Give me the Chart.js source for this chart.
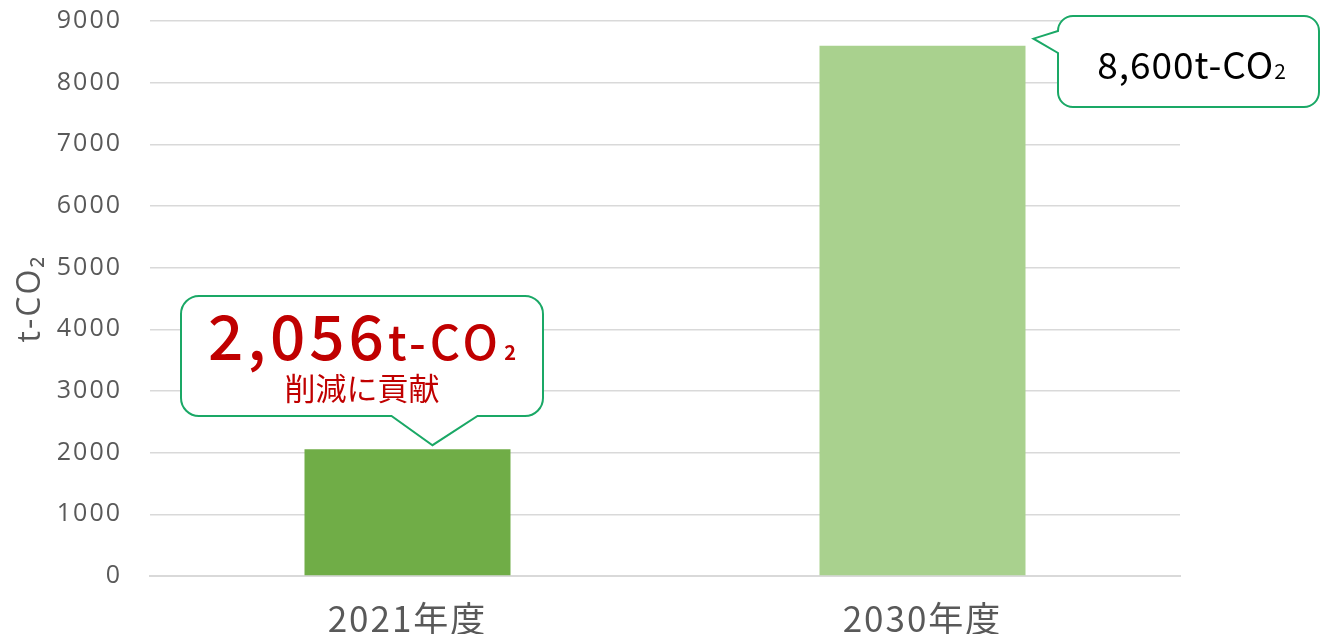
<!DOCTYPE html>
<html>
<head>
<meta charset="utf-8">
<script src="https://cdn.jsdelivr.net/npm/chart.js@4"></script>
<style>
  html, body { margin: 0; padding: 0; background: #fff; }
  #wrap { width: 1321px; height: 634px; }
</style>
</head>
<body>
<div id="wrap"><canvas id="co2Chart"></canvas></div>
<script>
// data
const categories = ['2021年度', '2030年度'];
const emissions = [2056, 8600];
const barColors = ['#70ad47', '#a9d18e'];
const yMax = 9000;
const yStep = 1000;

const JP = '"Noto Sans CJK JP", "Noto Sans", sans-serif';
const LAT = '"Open Sans", "Noto Sans", sans-serif';
const GREEN = '#1aa866';
const RED = '#c00000';

// draw a sequence of [text, font, color, spacing] pieces on one baseline, centred at cx
function drawRuns(ctx, runs, cx, baseline) {
    let total = 0;
    runs.forEach(r => {
        ctx.font = r[1];
        ctx.letterSpacing = (r[3] || 0) + 'px';
        total += ctx.measureText(r[0]).width;
    });
    let x = cx - total / 2;
    ctx.textAlign = 'left';
    ctx.textBaseline = 'alphabetic';
    runs.forEach(r => {
        ctx.font = r[1];
        ctx.letterSpacing = (r[3] || 0) + 'px';
        ctx.fillStyle = r[2];
        ctx.fillText(r[0], x, baseline);
        x += ctx.measureText(r[0]).width;
    });
    ctx.letterSpacing = '0px';
}

function roundedPath(ctx, x, y, w, h, r, pointer) {
    ctx.beginPath();
    ctx.moveTo(x + r, y);
    ctx.lineTo(x + w - r, y);
    ctx.arcTo(x + w, y, x + w, y + r, r);
    ctx.lineTo(x + w, y + h - r);
    ctx.arcTo(x + w, y + h, x + w - r, y + h, r);
    if (pointer.side === 'bottom') {
        ctx.lineTo(pointer.b, y + h);
        ctx.lineTo(pointer.tipX, pointer.tipY);
        ctx.lineTo(pointer.a, y + h);
    }
    ctx.lineTo(x + r, y + h);
    ctx.arcTo(x, y + h, x, y + h - r, r);
    if (pointer.side === 'left') {
        ctx.lineTo(x, pointer.b);
        ctx.lineTo(pointer.tipX, pointer.tipY);
        ctx.lineTo(x, pointer.a);
    }
    ctx.lineTo(x, y + r);
    ctx.arcTo(x, y, x + r, y, r);
    ctx.closePath();
}

// widen axis text a little (the original uses a wider font)
const spacingPlugin = {
    id: 'axisSpacing',
    beforeDraw(chart) { chart.ctx.letterSpacing = '2px'; },
    beforeDatasetsDraw(chart) { chart.ctx.letterSpacing = '0px'; }
};

const calloutPlugin = {
    id: 'callouts',
    afterDatasetsDraw(chart) {
        const ctx = chart.ctx;
        const bars = chart.getDatasetMeta(0).data;
        ctx.save();
        ctx.lineWidth = 2;
        ctx.strokeStyle = GREEN;

        // 2021 callout, pointing down at the bar
        const b1 = bars[0];
        const tip1x = b1.x + 25, tip1y = b1.y - 4;
        const bx = 181, by = 296, bw = 362, bh = 120;
        roundedPath(ctx, bx, by, bw, bh, 18, {side: 'bottom', a: tip1x - 41, b: tip1x + 45, tipX: tip1x, tipY: tip1y});
        ctx.fillStyle = '#fff';
        ctx.fill();
        ctx.stroke();
        const v1 = emissions[0].toLocaleString('en-US');
        drawRuns(ctx, [
            [v1, '500 62px ' + JP, RED, 4],
            ['t-CO', '500 47px ' + JP, RED, 4],
            [' ', '10px ' + JP, RED],
            ['2', 'bold 20px ' + JP, RED]
        ], bx + bw / 2, 360);
        ctx.font = '31px ' + JP;
        ctx.fillStyle = RED;
        ctx.textAlign = 'center';
        ctx.textBaseline = 'middle';
        ctx.fillText('削減に貢献', bx + bw / 2, 388);

        // 2030 callout, pointing left at the bar
        const b2 = bars[1];
        const tip2x = b2.x + b2.width / 2 + 8, tip2y = b2.y - 7;
        const cx = 1058, cy = 16, cw = 261, ch = 91;
        ctx.fillStyle = '#fff';
        roundedPath(ctx, cx, cy, cw, ch, 15, {side: 'left', a: 31, b: 53, tipX: tip2x, tipY: tip2y});
        ctx.fill();
        ctx.stroke();
        const v2 = emissions[1].toLocaleString('en-US');
        drawRuns(ctx, [
            [v2 + 't-CO', '37px ' + JP, '#000', 1],
            ['2', '21px ' + JP, '#000']
        ], cx + cw / 2 + 3, 79);
        ctx.restore();
    }
};

new Chart(document.getElementById('co2Chart'), {
    type: 'bar',
    data: {
        labels: categories,
        datasets: [{
            data: emissions,
            backgroundColor: barColors,
            borderWidth: 0,
            barPercentage: 0.4,
            categoryPercentage: 1.0
        }]
    },
    options: {
        responsive: true,
        maintainAspectRatio: false,
        animation: false,
        events: [],
        layout: { padding: { top: 21, right: 141, left: 0, bottom: 0 } },
        plugins: {
            legend: { display: false },
            tooltip: { enabled: false }
        },
        scales: {
            x: {
                grid: { display: false },
                border: { display: true, color: '#d9d9d9', width: 2 },
                ticks: {
                    color: '#595959',
                    padding: 14,
                    font: { family: JP, size: 35 }
                },
                afterFit(axis) { axis.height = 58; }
            },
            y: {
                min: 0,
                max: yMax,
                border: { display: false },
                grid: {
                    color: '#d9d9d9',
                    lineWidth: 1.5,
                    drawTicks: true,
                    tickLength: 28,
                    tickColor: 'rgba(0,0,0,0)'
                },
                ticks: {
                    stepSize: yStep,
                    color: '#595959',
                    padding: 0,
                    font: { family: LAT, size: 25 },
                    callback: v => String(v)
                },
                title: {
                    display: true,
                    text: 't-CO\u2082',
                    color: '#595959',
                    padding: { top: 12, bottom: 0 },
                    font: { family: LAT, size: 32 }
                },
                afterFit(axis) { axis.width = 150; }
            }
        }
    },
    plugins: [spacingPlugin, calloutPlugin]
});
</script>
</body>
</html>
